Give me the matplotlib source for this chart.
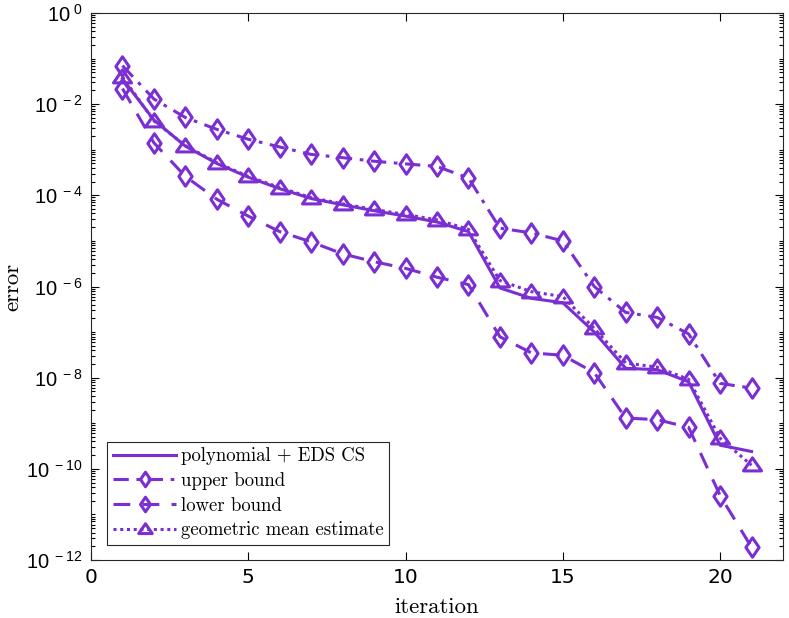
import numpy as np
import matplotlib
matplotlib.use("Agg")
import matplotlib.pyplot as plt
from matplotlib.ticker import FixedLocator, LogLocator, FuncFormatter, NullFormatter
from matplotlib.path import Path

# ---- data ----
iterations = list(range(1, 22))
polynomial = [3.6e-2, 4.5e-3, 1.2e-3, 5.0e-4, 2.5e-4, 1.4e-4, 8.5e-5, 6.2e-5, 4.6e-5, 3.5e-5,
              2.6e-5, 1.6e-5, 9.3e-7, 5.5e-7, 4.4e-7, 1.0e-7, 1.6e-8, 1.5e-8, 8.1e-9, 3.3e-10, 2.4e-10]
upper_bound = [7.0e-2, 1.3e-2, 5.1e-3, 2.8e-3, 1.7e-3, 1.15e-3, 7.9e-4, 6.7e-4, 5.6e-4, 4.9e-4,
               4.3e-4, 2.4e-4, 1.9e-5, 1.5e-5, 1.0e-5, 1.0e-6, 2.7e-7, 2.1e-7, 9.1e-8, 7.5e-9, 5.9e-9]
lower_bound = [2.2e-2, 1.42e-3, 2.6e-4, 8.2e-5, 3.5e-5, 1.6e-5, 9.5e-6, 5.2e-6, 3.5e-6, 2.5e-6,
               1.6e-6, 1.1e-6, 7.9e-8, 3.5e-8, 3.1e-8, 1.29e-8, 1.3e-9, 1.2e-9, 8.1e-10, 2.6e-11, 1.9e-12]
geometric_mean = [4.0e-2, 4.3e-3, 1.23e-3, 5.2e-4, 2.6e-4, 1.48e-4, 8.9e-5, 6.5e-5, 4.9e-5, 3.8e-5,
                  2.9e-5, 1.8e-5, 1.35e-6, 7.7e-7, 6.0e-7, 1.2e-7, 2.1e-8, 1.7e-8, 9.2e-9, 4.7e-10, 1.2e-10]
labels = ["polynomial + EDS CS", "upper bound", "lower bound", "geometric mean estimate"]
x_ticks = [0, 5, 10, 15, 20]
y_major = [1e0, 1e-2, 1e-4, 1e-6, 1e-8, 1e-10, 1e-12]

# ---- style ----
plt.rcParams['mathtext.fontset'] = 'custom'
plt.rcParams['mathtext.rm'] = 'Liberation Sans'
plt.rcParams['mathtext.it'] = 'Liberation Sans'
plt.rcParams['axes.unicode_minus'] = False

color = '#7B2ED2'
lw = 2.2

diamond = Path([(0, 1), (0.68, 0), (0, -1), (-0.68, 0), (0, 1)],
               [Path.MOVETO, Path.LINETO, Path.LINETO, Path.LINETO, Path.CLOSEPOLY])
triangle = Path([(0, 0.85), (1, -0.6), (-1, -0.6), (0, 0.85)],
                [Path.MOVETO, Path.LINETO, Path.LINETO, Path.CLOSEPOLY])

fig = plt.figure(figsize=(7.89, 6.18), dpi=100)
ax = fig.add_axes([91/789, 1 - 560/618, (783-91)/789, (560-13)/618])

ax.plot(iterations, polynomial, color=color, lw=lw, ls='-', label=labels[0])
ax.plot(iterations, upper_bound, color=color, lw=lw, ls=(0, (5, 2.5, 1.2, 2.5)),
        marker=diamond, ms=14, mfc='none', mec=color, mew=2.2, label=labels[1])
ax.plot(iterations, lower_bound, color=color, lw=lw, ls=(0, (5.5, 4)),
        marker=diamond, ms=14, mfc='none', mec=color, mew=2.2, label=labels[2])
ax.plot(iterations, geometric_mean, color=color, lw=lw, ls=(0, (1.0, 1.2)),
        marker=triangle, ms=13, mfc='none', mec=color, mew=2.2, label=labels[3])

ax.set_yscale('log')
ax.set_xlim(0, 22)
ax.set_ylim(1e-12, 1e0)

ax.xaxis.set_major_locator(FixedLocator(x_ticks))
ax.yaxis.set_major_locator(FixedLocator(y_major))
ax.yaxis.set_minor_locator(LogLocator(base=10, subs=np.arange(1, 10), numticks=100))
ax.yaxis.set_minor_formatter(NullFormatter())

def fmt(v, pos):
    e = int(round(np.log10(v)))
    return r'$10^{\ %d}$' % e
ax.yaxis.set_major_formatter(FuncFormatter(fmt))

ax.tick_params(which='both', direction='in', top=True, right=True, width=0.8)
ax.tick_params(which='major', length=6, labelsize=14.5, pad=6)
ax.tick_params(which='minor', length=3)
for sp in ax.spines.values():
    sp.set_linewidth(0.8)
    sp.set_color('#262626')

ax.set_xlabel('iteration', family='cmr10', fontsize=16.5, labelpad=7)
ax.set_ylabel('error', family='cmr10', fontsize=16.5, labelpad=3)

leg = ax.legend(loc='lower left', prop={'family': 'cmr10', 'size': 13.5},
                handlelength=3.4, handletextpad=0.25, labelspacing=0.36,
                borderpad=0.3, borderaxespad=0, fancybox=False, framealpha=1,
                markerscale=0.75, edgecolor='#262626',
                bbox_to_anchor=(16/692, 15/547))
leg.get_frame().set_linewidth(0.8)

fig.savefig('out.png', dpi=100)
